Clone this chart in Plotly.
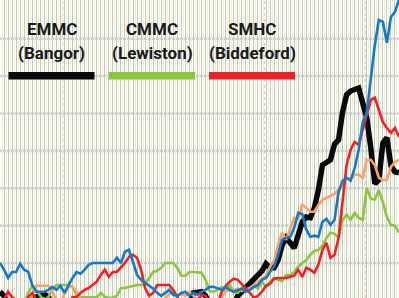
import plotly.graph_objects as go

# index of each sample (equal time steps)
steps = list(range(100))

emmc = [2.3, 1.2, -1, -1, -1, -1, -1, -1, -1, 0.9,
        1.5, 1.7, 0.9, -1, -1, -1, -1, -1, -1, -1,
        -1, -1, -1, -1, -1, -1, -1, -1, -1, -1,
        -1, -1, -1, -1, -1, -1, -1, -1, -1, -1,
        -1, -1, -1, -1, -1, -1, -1, -1, 2.0, 2.0,
        2.3, 1.2, -1, -1, -1, -1, -1, -1, -1, 1.2,
        2.3, 3.3, 4.7, 5.8, 6.6, 7.9, 9.8, 8.7, 8.7, 10.8,
        14.8, 16.7, 15.4, 14.0, 17.5, 21.0, 22.3, 22.1, 24.7, 29.5,
        36.2, 37.0, 37.6, 41.8, 42.9, 50.4, 55.0, 56.0, 56.6, 56.8,
        52.8, 48.8, 40.8, 31.2, 32.2, 42.1, 43.5, 36.0, 34.4, 34.1]

cmmc = [-1, -1, -1, -1, -1, -1, -1, 2.0, 3.9, 2.8,
        1.2, 0.0, 0.9, 2.8, 4.1, 4.1, 4.1, 4.1, 3.6, 1.5,
        0.8, 0.8, 0.8, 0.8, 0.8, 2.0, 0.9, 0.7, 0.7, 1.2,
        3.3, 3.3, 3.6, 3.9, 4.1, 4.1, 4.4, 6.0, 7.6, 7.9,
        8.7, 10.0, 10.0, 10.0, 8.7, 6.6, 6.6, 7.6, 7.6, 7.6,
        7.4, 5.5, 2.5, 2.3, 2.8, 3.6, 2.5, 4.1, 2.3, 2.0,
        3.3, 2.8, 3.3, 4.1, 3.1, 5.0, 3.6, 5.0, 6.0, 5.5,
        5.2, 6.8, 6.8, 7.6, 9.0, 10.0, 10.8, 12.2, 13.2, 13.5,
        14.6, 16.7, 18.1, 17.8, 16.7, 21.5, 22.9, 21.5, 23.4, 22.1,
        21.5, 30.1, 27.2, 27.0, 29.5, 26.3, 22.3, 20.2, 19.9, 18.1]

smhc = [-1, 0.1, 2.3, 0.9, 0.1, -1, -1, 0.9, 2.0, 0.1,
        -1, -1, -1, -1, -1, -1, -1, -1, 0.9, 0.9,
        2.0, 2.8, 3.3, 4.1, 5.0, 6.8, 8.2, 6.3, 7.6, 7.6,
        8.7, 10.0, 11.6, 12.2, 11.4, 8.2, 3.3, 1.2, 2.0, 4.1,
        4.1, 4.1, 4.1, 2.8, 0.9, -1, -1, -1, -1, 0.1,
        1.5, 1.2, -1, -1, -1, 2.3, 3.9, 5.0, 5.8, 5.5,
        4.4, 3.1, 2.0, 0.7, 1.2, 2.3, 3.9, 4.4, 5.8, 6.0,
        6.0, 6.0, 6.3, 6.6, 8.2, 6.3, 8.7, 8.2, 7.4, 9.5,
        13.5, 15.4, 11.4, 12.2, 16.7, 26.9, 36.2, 40.3, 42.4, 41.6,
        45.6, 49.6, 53.6, 54.2, 51.0, 47.7, 46.1, 44.8, 46.1, 43.7]

orange_series = [-1, -1, -1, -1, -1, -1, -1, -1, 1.2, 3.9,
                 3.9, 3.9, 3.9, 2.3, 0.1, -1, 1.7, 3.6, 3.6, 2.3,
                 0.1, -1, -1, -1, -1, -1, -1, -1, -1, -1,
                 -1, -1, -1, -1, -1, -1, -1, -1, -1, -1,
                 -1, 0.7, 1.7, 2.0, 1.2, 1.7, 1.2, 2.3, 1.2, 0.1,
                 -1, -1, -1, -1, -1, 0.9, 2.5, 2.8, 2.8, 3.1,
                 2.5, 2.8, 3.3, 4.1, 5.0, 5.8, 6.6, 9.0, 10.6, 14.8,
                 18.1, 16.2, 19.4, 22.1, 21.8, 25.5, 24.7, 23.7, 23.7, 25.5,
                 26.9, 27.4, 28.0, 28.5, 29.6, 30.9, 32.8, 32.5, 33.6, 33.6,
                 32.8, 37.6, 37.6, 36.2, 32.8, 32.2, 32.2, 35.7, 37.0, 37.6]

blue_series = [10.0, 8.2, 6.0, 7.6, 7.6, 9.8, 8.2, 7.6, 4.1, 2.3,
               2.3, 2.3, 2.8, 3.6, 2.8, 3.9, 2.0, 4.1, 6.0, 7.6,
               7.1, 8.2, 9.5, 10.0, 10.0, 10.0, 10.0, 10.0, 10.0, 11.4,
               10.0, 13.0, 13.5, 10.3, 6.8, 5.5, 4.7, 4.1, 3.1, 2.0,
               1.2, 2.0, 2.8, 1.5, 1.2, 2.0, 2.3, 1.2, 2.0, 1.5,
               2.3, 2.8, 3.6, 3.6, 3.3, 2.8, 3.6, 2.8, 2.3, 2.8,
               3.1, 2.3, 2.8, 3.6, 4.1, 5.5, 6.0, 7.6, 9.0, 12.2,
               16.2, 16.7, 17.0, 19.4, 23.4, 23.1, 18.9, 17.0, 17.3, 17.0,
               21.0, 21.8, 20.2, 21.5, 29.0, 32.0, 32.8, 32.0, 35.4, 40.3,
               47.7, 50.2, 59.0, 68.3, 75.0, 74.5, 68.9, 75.8, 77.2, 80.4]

legend_titles = ["EMMC", "CMMC", "SMHC"]
legend_places = ["(Bangor)", "(Lewiston)", "(Biddeford)"]

BLACK = "#0a0a0a"
GREEN = "#8cc63f"
RED = "#ec2227"
ORANGE = "#f7a26b"
BLUE = "#1679c4"

fig = go.Figure()
fig.add_trace(go.Scatter(x=steps, y=emmc, mode="lines", line=dict(color=BLACK, width=5.5)))
fig.add_trace(go.Scatter(x=steps, y=cmmc, mode="lines", line=dict(color=GREEN, width=2.6)))
fig.add_trace(go.Scatter(x=steps, y=orange_series, mode="lines", line=dict(color=ORANGE, width=2.6)))
fig.add_trace(go.Scatter(x=steps, y=smhc, mode="lines", line=dict(color=RED, width=2.6)))
fig.add_trace(go.Scatter(x=steps, y=blue_series, mode="lines", line=dict(color=BLUE, width=2.6)))

# dotted pink period dividers
for xv in [15.6, 40.6, 65.6, 90.6]:
    fig.add_shape(type="line", xref="x", yref="paper", x0=xv, x1=xv, y0=0, y1=1,
                  line=dict(color="#f2bcb4", width=1.2, dash="dot"), layer="between")

# horizontal grid lines on top of vertical stripes
for yv in [10, 20, 30, 40, 50, 60, 70]:
    fig.add_shape(type="line", xref="paper", yref="y", x0=0, x1=1, y0=yv, y1=yv,
                  line=dict(color="#d2d1db", width=2.6), layer="between")

W, H = 399, 298
centers = [51.5, 152, 252]
bar_cols = [BLACK, GREEN, RED]
font_fam = "Roboto, Liberation Sans Narrow, sans-serif"
for c, t, p, col in zip(centers, legend_titles, legend_places, bar_cols):
    fig.add_annotation(x=c / W, y=1 - 29.5 / H, xref="paper", yref="paper",
                       text="<b>%s</b>" % t, showarrow=False, xanchor="center", yanchor="middle",
                       font=dict(family=font_fam, size=17, color="#1a1a1a"))
    fig.add_annotation(x=c / W, y=1 - 52.5 / H, xref="paper", yref="paper",
                       text="<b>%s</b>" % p, showarrow=False, xanchor="center", yanchor="middle",
                       font=dict(family=font_fam, size=17, color="#1a1a1a"))
    fig.add_shape(type="rect", xref="paper", yref="paper",
                  x0=(c - 43) / W, x1=(c + 43) / W, y0=1 - 79.5 / H, y1=1 - 72 / H,
                  fillcolor=col, line=dict(width=0), layer="above")

fig.update_layout(
    width=W, height=H,
    margin=dict(l=0, r=0, t=0, b=0),
    paper_bgcolor="#ffffff",
    plot_bgcolor="#fefefa",
    showlegend=False,
    xaxis=dict(range=[0, 99], dtick=1, tick0=0, showgrid=True, gridcolor="#c6c6c0", gridwidth=1,
               minor=dict(dtick=0.5, tick0=0, showgrid=True, gridcolor="#eaf0d2", gridwidth=1.3),
               showticklabels=False, zeroline=False, showline=False, ticks=""),
    yaxis=dict(range=[0.63, 80.35], showgrid=False, showticklabels=False, zeroline=False,
               showline=False, ticks=""),
)

fig.write_html("out.html")
